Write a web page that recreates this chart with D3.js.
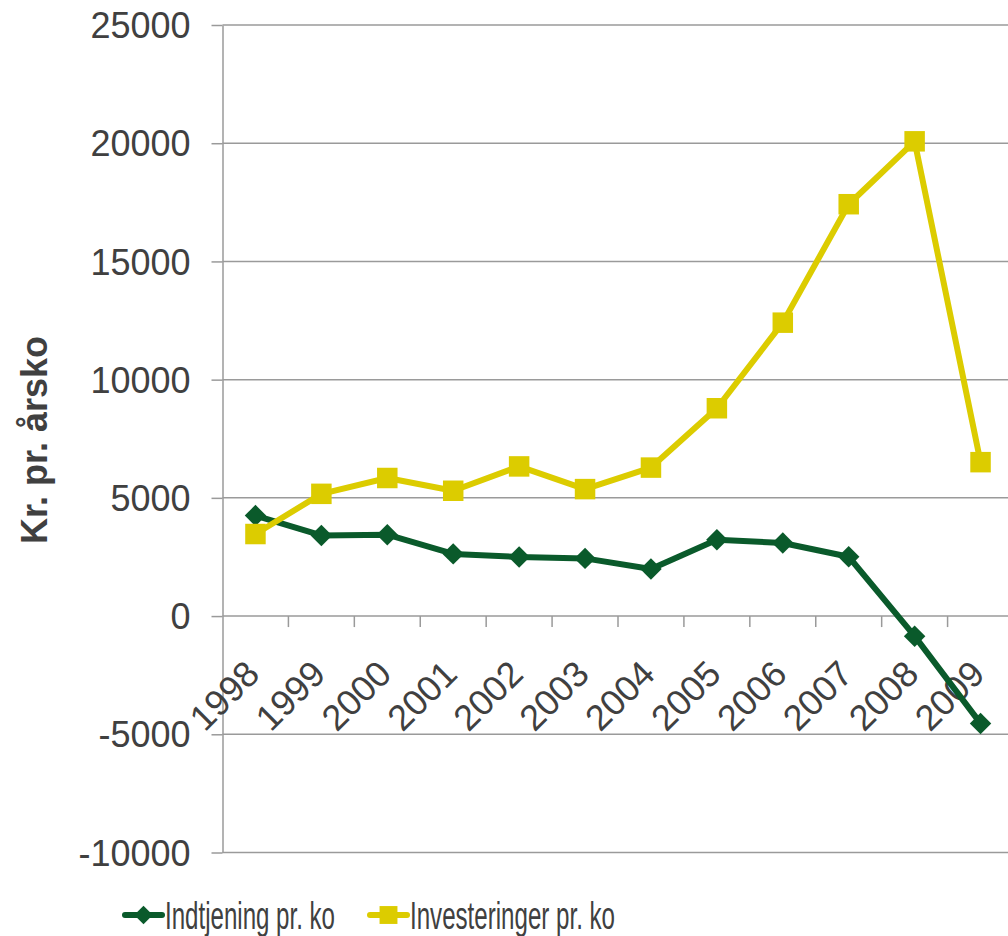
<!DOCTYPE html>
<html>
<head>
<meta charset="utf-8">
<script src="https://cdn.jsdelivr.net/npm/d3@7"></script>
<style>
  html, body { margin: 0; padding: 0; background: #fff; }
  svg { display: block; font-family: "Liberation Sans", Arial, sans-serif; }
</style>
</head>
<body>
<svg id="chart" width="1008" height="936"></svg>
<script>
  var years = ['1998', '1999', '2000', '2001', '2002', '2003', '2004', '2005', '2006', '2007', '2008', '2009'];
  var indtjening = [4250, 3410, 3440, 2630, 2500, 2440, 1990, 3230, 3090, 2510, -850, -4540];
  var investeringer = [3470, 5170, 5840, 5300, 6330, 5370, 6280, 8790, 12410, 17420, 20080, 6510];
  var yTicks = [-10000, -5000, 0, 5000, 10000, 15000, 20000, 25000];
  var seriesNames = ['Indtjening pr. ko', 'Investeringer pr. ko'];

  var green = '#0a5a2b';
  var yellow = '#dccc00';
  var grid = '#9a9a9a';
  var textColor = '#404040';

  var svg = d3.select('#chart');

  var x = d3.scaleBand().domain(years).range([222.5, 1013.5]).paddingInner(0).paddingOuter(0);
  var y = d3.scaleLinear().domain([-10000, 25000]).range([852.5, 25]);
  var cx = function(d) { return x(d) + x.bandwidth() / 2; };

  // y axis with short outside ticks; labels keep a plain hyphen minus
  var yAxis = svg.append('g')
    .attr('transform', 'translate(222.5,0)')
    .call(d3.axisLeft(y).tickValues(yTicks).tickSize(11).tickSizeOuter(0)
      .tickFormat(function(d) { return String(d); }));
  yAxis.select('.domain').attr('stroke', grid).attr('stroke-width', 1.5);
  yAxis.selectAll('.tick line').attr('stroke', grid).attr('stroke-width', 1.5);
  yAxis.selectAll('.tick text')
    .attr('x', -32)
    .attr('dy', '0.35em')
    .attr('fill', textColor)
    .style('font-size', '36px');

  svg.append('g').selectAll('line.grid')
    .data(yTicks)
    .join('line')
    .attr('class', 'grid')
    .attr('x1', 222.5).attr('x2', 1008)
    .attr('y1', function(d) { return y(d); })
    .attr('y2', function(d) { return y(d); })
    .attr('stroke', grid)
    .attr('stroke-width', 1.5);

  // x category boundary ticks on the zero line
  svg.append('g').selectAll('line.xtick')
    .data(years.slice(1))
    .join('line')
    .attr('class', 'xtick')
    .attr('x1', function(d) { return x(d); })
    .attr('x2', function(d) { return x(d); })
    .attr('y1', y(0)).attr('y2', y(0) + 11)
    .attr('stroke', grid)
    .attr('stroke-width', 1.5);

  svg.append('g').selectAll('text.xlabel')
    .data(years)
    .join('text')
    .attr('class', 'xlabel')
    .attr('transform', function(d) { return 'translate(' + (cx(d) + 6) + ',' + (y(0) + 60) + ') rotate(-45)'; })
    .attr('text-anchor', 'end')
    .attr('fill', textColor)
    .style('font-size', '36px')
    .text(function(d) { return d; });

  // y axis title
  svg.append('text')
    .attr('transform', 'translate(47,440) rotate(-90)')
    .attr('text-anchor', 'middle')
    .attr('fill', textColor)
    .style('font-size', '36px')
    .style('font-weight', 'bold')
    .text('Kr. pr. årsko');

  var line = d3.line()
    .x(function(d, i) { return cx(years[i]); })
    .y(function(d) { return y(d); });

  function drawSeries(values, color, shape) {
    var g = svg.append('g');
    g.append('path')
      .attr('d', line(values))
      .attr('fill', 'none')
      .attr('stroke', color)
      .attr('stroke-width', 6)
      .attr('stroke-linejoin', 'round');
    g.selectAll('path.marker')
      .data(values)
      .join('path')
      .attr('class', 'marker')
      .attr('d', d3.symbol().type(d3.symbolSquare).size(shape === 'diamond' ? 230 : 420))
      .attr('transform', function(d, i) {
        return 'translate(' + cx(years[i]) + ',' + y(d) + ')' + (shape === 'diamond' ? ' rotate(45)' : '');
      })
      .attr('fill', color);
  }

  drawSeries(indtjening, green, 'diamond');
  drawSeries(investeringer, yellow, 'square');

  // legend
  var legend = [
    { name: seriesNames[0], color: green, shape: 'diamond', x: 125, w: 170 },
    { name: seriesNames[1], color: yellow, shape: 'square', x: 370, w: 205 }
  ];
  var lg = svg.append('g').selectAll('g').data(legend).join('g')
    .attr('transform', function(d) { return 'translate(' + d.x + ',915)'; });
  lg.append('line')
    .attr('x1', 0).attr('x2', 37).attr('y1', 0).attr('y2', 0)
    .attr('stroke', function(d) { return d.color; })
    .attr('stroke-width', 6)
    .attr('stroke-linecap', 'round');
  lg.append('path')
    .attr('d', function(d) { return d3.symbol().type(d3.symbolSquare).size(d.shape === 'diamond' ? 170 : 320)(); })
    .attr('transform', function(d) { return 'translate(18.5,0)' + (d.shape === 'diamond' ? ' rotate(45)' : ''); })
    .attr('fill', function(d) { return d.color; });
  lg.append('text')
    .attr('x', 40)
    .attr('y', 14)
    .attr('fill', textColor)
    .style('font-size', '38px')
    .attr('textLength', function(d) { return d.w; })
    .attr('lengthAdjust', 'spacingAndGlyphs')
    .text(function(d) { return d.name; });
</script>
</body>
</html>
